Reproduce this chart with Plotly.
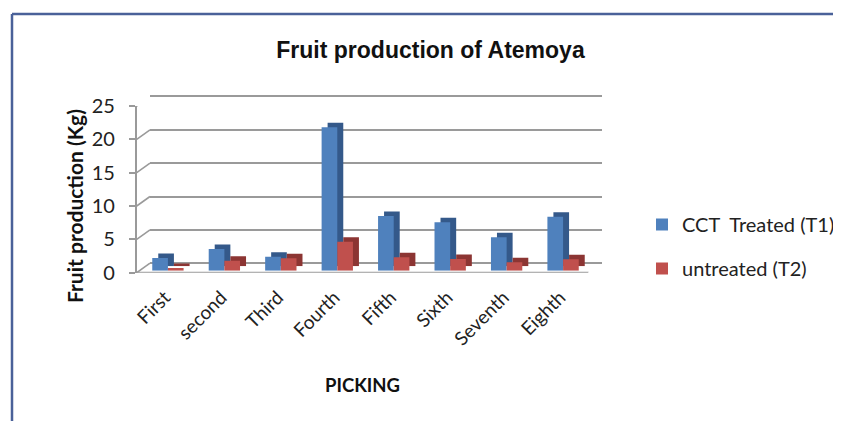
import plotly.graph_objects as go

# ---- data ----
picking = ["First", "second", "Third", "Fourth", "Fifth", "Sixth", "Seventh", "Eighth"]
treated_t1 = [1.9, 3.25, 2.1, 21.5, 8.2, 7.25, 5.0, 8.1]
untreated_t2 = [0.4, 1.5, 1.85, 4.35, 2.0, 1.75, 1.25, 1.7]
y_ticks = [0, 5, 10, 15, 20, 25]
series_names = ["CCT  Treated (T1)", "untreated (T2)"]

# ---- styling (geometry in page px; page has 8px body margin) ----
PAGE_W, PAGE_H, BODY = 841, 421, 8
W, H = PAGE_W - BODY, PAGE_H - BODY
L, R, T, B = 130, 610, 90, 280          # plot area in page px
FX0, FX1, FY0, FY25 = 136.7, 588.3, 272.7, 106.0   # front floor geometry (px)
WALL = (13.3, -9.5)     # back wall offset (px)
BARF = (3.0, -2.0)      # bar front face offset
BARD = (9.0, -6.5)      # bar back face offset
Y_MAX = 25.0

spacing = (FX1 - FX0) / len(picking)
px_per_unit = (FY0 - FY25) / Y_MAX
wall_dx_u = WALL[0] / spacing
wall_dy_u = -WALL[1] / px_per_unit

def xd(px):
    return (px - L) / (R - L)

def yd(py):
    return (B - py) / (B - T)

def cx(px):
    return (px - BODY) / W

def cy(py):
    return 1 - (py - BODY) / H

def dom(off, ylo=0.0, yhi=Y_MAX):
    dx, dy = off
    y0 = FY0 + dy
    return ([xd(FX0 + dx), xd(FX1 + dx)],
            [yd(y0 - ylo * px_per_unit), yd(y0 - yhi * px_per_unit)])

BLUE, BLUE_D = "#4F81BD", "#34598A"
RED, RED_D = "#C0504D", "#8C3533"
GRID = "#9A9A9A"
FONT = "Lato"
TXT = "#222222"

fig = go.Figure()

# dummy trace on the back-wall axes
fig.add_trace(go.Scatter(x=[0], y=[None], xaxis="x", yaxis="y", mode="markers",
                         showlegend=False, hoverinfo="skip"))
# back copies (depth faces)
fig.add_trace(go.Bar(x=picking, y=treated_t1, marker_color=BLUE_D, marker_line_width=0,
                     xaxis="x2", yaxis="y2", showlegend=False, hoverinfo="skip", offsetgroup="a"))
fig.add_trace(go.Bar(x=picking, y=untreated_t2, marker_color=RED_D, marker_line_width=0,
                     xaxis="x2", yaxis="y2", showlegend=False, hoverinfo="skip", offsetgroup="b"))
# front faces
fig.add_trace(go.Bar(x=picking, y=treated_t1, name=series_names[0], marker_color=BLUE,
                     marker_line_width=0, xaxis="x3", yaxis="y3", legendgroup="g1", offsetgroup="a"))
fig.add_trace(go.Bar(x=picking, y=untreated_t2, name=series_names[1], marker_color=RED,
                     marker_line_width=0, xaxis="x3", yaxis="y3", legendgroup="g2", offsetgroup="b"))
# dummy trace for the front (labelled) axes
fig.add_trace(go.Scatter(x=picking, y=[None] * len(picking), xaxis="x4", yaxis="y4",
                         mode="markers", showlegend=False, hoverinfo="skip"))

WALL_LO, WALL_HI = -0.6, Y_MAX + 0.6
wx, wy = dom(WALL, WALL_LO, WALL_HI)
dx2, dy2 = dom(BARD)
fx3, fy3 = dom(BARF)
fx4, fy4 = dom((0, 0))

hidden = dict(showticklabels=False, showgrid=False, zeroline=False, showline=False, ticks="")

fig.update_layout(
    width=W, height=H,
    margin=dict(l=L - BODY, r=PAGE_W - R, t=T - BODY, b=PAGE_H - B),
    paper_bgcolor="white", plot_bgcolor="rgba(0,0,0,0)",
    barmode="group", bargap=0.445, bargroupgap=0,
    font=dict(family=FONT, size=17, color=TXT),
    title=dict(text="<b>Fruit production of Atemoya</b>", x=cx(430.5), xanchor="center",
               y=cy(50), yanchor="middle",
               font=dict(family="Liberation Sans", size=23, color="#111111")),
    xaxis=dict(domain=wx, range=[-0.5, 7.5], type="linear", anchor="y", **hidden),
    yaxis=dict(domain=wy, range=[WALL_LO, WALL_HI], tickvals=y_ticks, anchor="x", showgrid=True,
               gridcolor=GRID, gridwidth=1.8, showticklabels=False, zeroline=False,
               showline=False, ticks=""),
    xaxis2=dict(domain=dx2, anchor="y2", categoryarray=picking, categoryorder="array", **hidden),
    yaxis2=dict(domain=dy2, anchor="x2", range=[0, Y_MAX], **hidden),
    xaxis3=dict(domain=fx3, anchor="y3", categoryarray=picking, categoryorder="array", **hidden),
    yaxis3=dict(domain=fy3, anchor="x3", range=[0, Y_MAX], **hidden),
    xaxis4=dict(domain=fx4, anchor="y4", type="category",
                categoryarray=picking, categoryorder="array", tickvals=picking, range=[-0.5, 7.5],
                tickangle=-45, tickfont=dict(family=FONT, size=19, color=TXT),
                ticklabelstandoff=9,
                showgrid=False, zeroline=False, showline=False, ticks=""),
    yaxis4=dict(domain=fy4, anchor="x4", range=[0, Y_MAX], tickvals=y_ticks,
                tickfont=dict(family=FONT, size=20, color=TXT),
                showgrid=False, zeroline=False, showline=True, linecolor=GRID, linewidth=1.6,
                ticks="outside", ticklen=6, tickcolor=GRID, tickwidth=1.5, ticklabelstandoff=10),
    legend=dict(xref="container", yref="container", x=cx(642), y=cy(205),
                xanchor="left", yanchor="top", tracegroupgap=15,
                font=dict(family=FONT, size=20, color=TXT), bgcolor="rgba(0,0,0,0)"),
    showlegend=True,
)

shapes = []
# left wall diagonals
for v in y_ticks:
    shapes.append(dict(type="line", xref="x4", yref="y4", x0=-0.5, y0=v,
                       x1=-0.5 + wall_dx_u, y1=v + wall_dy_u,
                       line=dict(color=GRID, width=1.6), layer="below"))
# floor front and right edges
shapes.append(dict(type="line", xref="x4", yref="y4", x0=-0.5, y0=0, x1=7.5, y1=0,
                   line=dict(color=GRID, width=2), layer="below"))
shapes.append(dict(type="line", xref="x4", yref="y4", x0=7.5, y0=0,
                   x1=7.5 + wall_dx_u, y1=wall_dy_u,
                   line=dict(color=GRID, width=1.6), layer="below"))
# chart border (top and left)
BORDER = "#4A6199"
shapes.append(dict(type="line", xref="paper", yref="paper", x0=xd(12), y0=yd(14),
                   x1=xd(PAGE_W + 5), y1=yd(14), line=dict(color=BORDER, width=2.5)))
shapes.append(dict(type="line", xref="paper", yref="paper", x0=xd(12), y0=yd(14),
                   x1=xd(12), y1=yd(PAGE_H + 5), line=dict(color=BORDER, width=2.5)))
fig.update_layout(shapes=shapes)

fig.update_layout(annotations=[
    dict(text="<b>Fruit production (Kg)</b>", xref="paper", yref="paper", x=xd(74), y=yd(206),
         showarrow=False, textangle=-90, xanchor="center", yanchor="middle",
         font=dict(family=FONT, size=21, color="#111111")),
    dict(text="<b>PICKING</b>", xref="paper", yref="paper", x=xd(362), y=yd(385),
         showarrow=False, xanchor="center", yanchor="middle",
         font=dict(family=FONT, size=18.5, color="#111111")),
])

fig.write_html("out.html")
